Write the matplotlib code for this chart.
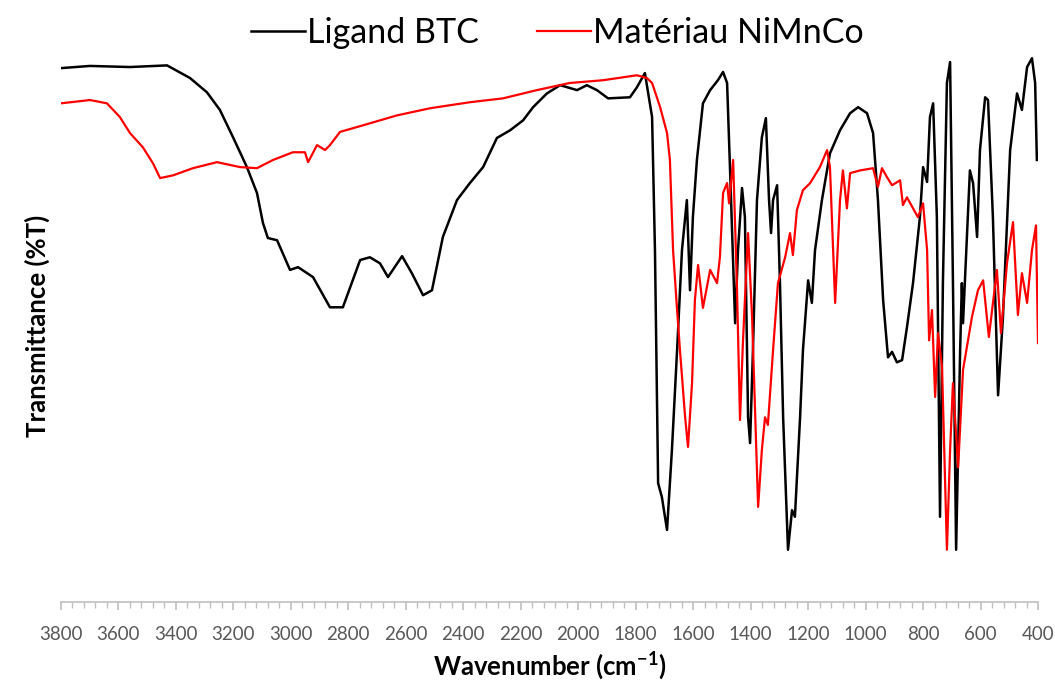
import numpy as np
import matplotlib
matplotlib.use('Agg')
import matplotlib.pyplot as plt
from matplotlib.ticker import MultipleLocator

plt.rcParams['font.family'] = ['Lato', 'DejaVu Sans']
plt.rcParams['mathtext.fontset'] = 'custom'
plt.rcParams['mathtext.rm'] = 'Lato'
plt.rcParams['mathtext.bf'] = 'Lato:bold'

# ---- Spectre IR du ligand BTC (nombre d'onde en cm-1, transmittance) ----
btc_wn = [3800, 3699, 3560, 3431, 3351, 3292, 3247, 3201, 3153, 3118,
          3097, 3080, 3048, 3003, 2975, 2923, 2864, 2819, 2759, 2725,
          2690, 2662, 2613, 2579, 2540, 2509, 2471, 2422, 2377, 2331,
          2283, 2237, 2192, 2157, 2109, 2063, 2004, 1970, 1935, 1896,
          1820, 1796, 1768, 1743, 1733, 1722, 1709, 1691, 1674, 1656,
          1639, 1622, 1611, 1601, 1587, 1566, 1541, 1514, 1496, 1482,
          1472, 1454, 1444, 1430, 1420, 1409, 1402, 1392, 1378, 1361,
          1347, 1336, 1329, 1322, 1308, 1298, 1287, 1270, 1256, 1246,
          1228, 1218, 1200, 1187, 1176, 1152, 1124, 1089, 1054, 1026,
          995, 974, 957, 939, 922, 908, 891, 873, 856, 835,
          811, 800, 786, 776, 765, 752, 741, 731, 717, 706,
          696, 685, 671, 665, 661, 647, 637, 626, 612, 602,
          584, 574, 557, 539, 522, 497, 473, 456, 438, 421,
          410, 404]
btc_t = [97.1, 97.5, 97.3, 97.6, 95.3, 92.7, 89.5, 84.5, 79.1, 74.4,
         68.9, 66.2, 65.8, 60.4, 60.9, 59.1, 53.6, 53.6, 62.2, 62.7,
         61.6, 59.1, 62.9, 59.8, 55.8, 56.7, 66.4, 73.1, 76.2, 79.1,
         84.4, 85.8, 87.6, 90.0, 92.5, 94.0, 93.1, 94.0, 93.1, 91.6,
         91.8, 93.6, 96.2, 88.2, 64.0, 21.6, 19.1, 13.1, 27.6, 45.8,
         64.0, 73.1, 56.7, 70.0, 80.4, 90.7, 93.1, 94.9, 96.4, 94.4,
         79.1, 50.7, 64.0, 75.3, 70.0, 33.6, 28.9, 45.8, 73.1, 84.5,
         88.0, 73.1, 67.1, 73.1, 75.8, 58.0, 33.6, 9.5, 16.7, 15.5,
         33.6, 45.8, 58.5, 54.4, 64.0, 73.1, 81.6, 85.8, 88.9, 90.0,
         88.9, 85.3, 73.1, 54.9, 44.5, 45.5, 43.6, 44.0, 50.0, 58.0,
         70.0, 79.1, 76.4, 88.2, 90.7, 70.0, 15.5, 58.0, 94.4, 98.2,
         58.0, 9.5, 45.8, 58.0, 50.7, 67.1, 78.5, 76.2, 66.4, 82.2,
         91.8, 91.3, 70.0, 37.6, 51.8, 82.2, 92.5, 89.5, 97.3, 98.9,
         94.4, 80.4]

# ---- Spectre IR du matériau NiMnCo ----
nimnco_wn = [3800, 3699, 3640, 3595, 3560, 3515, 3480, 3455, 3410, 3341,
             3257, 3177, 3118, 3062, 2993, 2951, 2940, 2909, 2881, 2864,
             2829, 2749, 2631, 2516, 2377, 2262, 2144, 2029, 1914, 1796,
             1761, 1743, 1715, 1691, 1681, 1670, 1656, 1646, 1628, 1618,
             1604, 1594, 1583, 1566, 1541, 1517, 1507, 1496, 1482, 1475,
             1461, 1448, 1437, 1427, 1409, 1395, 1374, 1361, 1350, 1340,
             1322, 1305, 1280, 1263, 1253, 1239, 1218, 1193, 1159, 1134,
             1124, 1106, 1089, 1079, 1065, 1054, 1019, 974, 957, 943,
             926, 908, 880, 870, 856, 818, 800, 786, 779, 769,
             758, 748, 734, 717, 706, 696, 678, 661, 630, 609,
             591, 571, 543, 529, 508, 487, 470, 456, 438, 421,
             407, 400]
nimnco_t = [90.7, 91.3, 90.7, 88.2, 85.3, 82.7, 79.8, 77.1, 77.6, 78.9,
            80.0, 79.1, 78.9, 80.4, 81.8, 81.8, 80.0, 83.1, 82.2, 83.1,
            85.5, 86.7, 88.5, 89.8, 90.9, 91.6, 93.1, 94.4, 94.9, 95.8,
            95.3, 94.4, 90.0, 85.3, 80.4, 64.0, 53.1, 45.8, 33.6, 28.2,
            39.8, 54.9, 61.3, 53.5, 60.4, 58.0, 62.7, 74.4, 76.2, 72.5,
            80.4, 58.0, 33.1, 47.1, 67.1, 51.8, 17.3, 27.6, 33.6, 32.2,
            45.8, 58.0, 62.7, 67.1, 63.1, 71.3, 74.9, 76.2, 79.1, 82.2,
            79.1, 54.4, 73.1, 78.5, 71.6, 78.0, 78.5, 78.9, 75.5, 78.9,
            77.3, 75.8, 76.7, 72.2, 73.6, 70.0, 72.5, 64.0, 47.6, 53.1,
            37.3, 48.9, 42.7, 9.5, 27.6, 39.8, 24.5, 42.2, 51.8, 56.7,
            58.5, 48.2, 60.4, 48.9, 61.6, 69.1, 52.2, 59.8, 54.4, 64.0,
            68.5, 47.1]

# ---- Tracé ----
fig = plt.figure(figsize=(10.55, 6.82), dpi=100)
ax = fig.add_axes([0.0578, 0.1173, 0.9261, 0.8094])

ax.plot(btc_wn, btc_t, color='black', lw=1.8, label='Ligand BTC')
ax.plot(nimnco_wn, nimnco_t, color='#ff0000', lw=1.6, label='Matériau NiMnCo')

ax.set_xlim(3800, 400)
ax.set_ylim(0, 100.4)
ax.xaxis.set_major_locator(MultipleLocator(200))
ax.xaxis.set_minor_locator(MultipleLocator(40))
ax.set_yticks([])

for side in ['top', 'right', 'left']:
    ax.spines[side].set_visible(False)
ax.spines['bottom'].set_color('#bfbfbf')
ax.spines['bottom'].set_linewidth(1.2)
ax.tick_params(axis='x', which='major', length=6, width=1.2, color='#bfbfbf',
               labelsize=13.5, labelcolor='#595959', pad=11)
ax.tick_params(axis='x', which='minor', length=4, width=1.0, color='#bfbfbf')

ax.set_xlabel(r'Wavenumber (cm$^{\mathbf{-1}}$)', fontsize=18.5,
              fontweight='bold', labelpad=5)
ax.set_ylabel('Transmittance (%T)', fontsize=18.5, fontweight='bold',
              labelpad=8)

fig.legend(loc='upper center', bbox_to_anchor=(0.528, 1.02), ncol=2,
           frameon=False, fontsize=24.5, handlelength=1.6, handletextpad=0.05,
           columnspacing=1.7)

fig.savefig('out.png', dpi=100)
